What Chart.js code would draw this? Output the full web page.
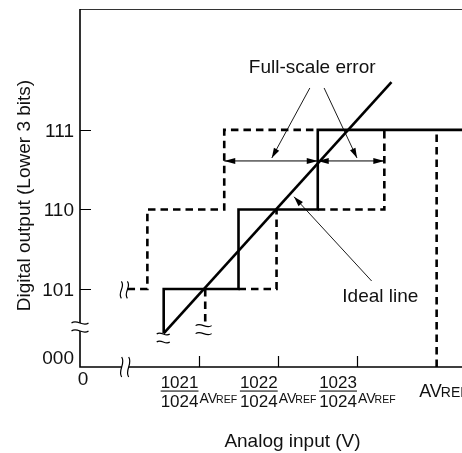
<!DOCTYPE html>
<html>
<head>
<meta charset="utf-8">
<script src="https://cdn.jsdelivr.net/npm/chart.js@4/dist/chart.umd.min.js"></script>
<style>
  html, body { margin: 0; padding: 0; background: #fff; }
  canvas { display: block; }
</style>
</head>
<body>
<canvas id="adc" width="462" height="453"></canvas>
<script>
// Output codes (lower 3 bits) on the vertical axis
const codeValues = [5, 6, 7];
const codeLabels = ['101', '110', '111'];
const originCodeLabel = '000';

// Analog input ticks, in steps of AVREF/1024
const inputTickValues = [1021, 1022, 1023];
const inputNumerators = ['1021', '1022', '1023'];
const inputDenominator = '1024';
const fullScaleValue = 1024;

// Actual conversion characteristic (solid staircase)
const actualX = [1020.556, 1020.556, 1021.5, 1021.5, 1022.5, 1022.5, 1024.5];
const actualY = [4.443, 5, 5, 6, 6, 7, 7];

// Ideal straight line
const idealX = [1020.556, 1023.43];
const idealY = [4.443, 7.60];

// Staircase reaching full scale early (dashed)
const earlyX = [1020.1, 1020.35, 1020.35, 1021.32, 1021.32, 1022.5];
const earlyY = [5, 5, 6, 6, 7, 7];

// Staircase reaching full scale late (dashed pieces)
const lateX1 = [1021.5, 1021.98, 1021.98];
const lateY1 = [5, 5, 6];
const lateX2 = [1022.5, 1023.34, 1023.34];
const lateY2 = [6, 6, 7];

// Drop line under the 101 transition and the AVREF line
const dropX = [1021.08, 1021.08];
const dropY = [5, 4.54];
const refX = [fullScaleValue, fullScaleValue];
const refY = [4.02, 7];

// Full-scale error spans (double arrows) at this code level
const errorLevel = 6.61;
const errorFrom = [1021.32, 1022.5];
const errorTo = [1022.5, 1023.34];

const toPoints = (xs, ys) => xs.map((v, i) => ({ x: v, y: ys[i] }));

const INK = '#000';
const TEXT = '#111';
const FONT = '"Liberation Sans", Arial, Helvetica, sans-serif';

function lineSet(xs, ys, dashed) {
  return {
    data: toPoints(xs, ys),
    showLine: true,
    borderColor: INK,
    borderWidth: 2.6,
    borderDash: dashed ? [7.5, 5] : [],
    borderJoinStyle: 'miter',
    pointRadius: 0,
    pointHoverRadius: 0,
    fill: false,
    tension: 0
  };
}

// Annotation geometry in data units
const notes = {
  fullScaleText: { x: 1022.43, y: 7.71, text: 'Full-scale error' },
  fullScaleLeaders: [
    { x1: 1022.40, y1: 7.527, x2: 1021.92, y2: 6.647 },
    { x1: 1022.58, y1: 7.527, x2: 1022.995, y2: 6.647 }
  ],
  idealText: { x: 1023.29, y: 4.833, text: 'Ideal line' },
  idealLeader: { x1: 1023.18, y1: 5.101, x2: 1022.20, y2: 6.16 }
};

// Break marks: position in data units, orientation
const breaks = [
  { x: 1019.5, y: 4.523, vertical: false, w: 17, a: 2.2, gap: 8, erase: true },
  { x: 1020.07, y: 4.02, vertical: true, w: 20, a: 2.2, gap: 7, erase: true },
  { x: 1020.06, y: 4.99, vertical: true, w: 17, a: 2.2, gap: 6, erase: false },
  { x: 1020.55, y: 4.384, vertical: false, w: 13, a: 1.8, gap: 8, erase: false },
  { x: 1021.06, y: 4.49, vertical: false, w: 16, a: 2.0, gap: 8, erase: false }
];

function curve(ctx, w, a, off) {
  ctx.moveTo(-w / 2, off);
  ctx.bezierCurveTo(-w / 6, off - 2 * a, w / 6, off + 2 * a, w / 2, off);
}

function drawBreak(ctx, cx, cy, b) {
  ctx.save();
  ctx.translate(cx, cy);
  if (b.vertical) ctx.rotate(Math.PI / 2);
  const g = b.gap / 2;
  if (b.erase) {
    ctx.beginPath();
    ctx.moveTo(-b.w / 2, -g);
    ctx.bezierCurveTo(-b.w / 6, -g - 2 * b.a, b.w / 6, -g + 2 * b.a, b.w / 2, -g);
    ctx.lineTo(b.w / 2, g);
    ctx.bezierCurveTo(b.w / 6, g + 2 * b.a, -b.w / 6, g - 2 * b.a, -b.w / 2, g);
    ctx.closePath();
    ctx.fillStyle = '#fff';
    ctx.fill();
  }
  ctx.beginPath();
  curve(ctx, b.w, b.a, -g);
  curve(ctx, b.w, b.a, g);
  ctx.strokeStyle = INK;
  ctx.lineWidth = 1.2;
  ctx.stroke();
  ctx.restore();
}

function arrowHead(ctx, tx, ty, fx, fy, len, half) {
  const ang = Math.atan2(ty - fy, tx - fx);
  ctx.save();
  ctx.translate(tx, ty);
  ctx.rotate(ang);
  ctx.beginPath();
  ctx.moveTo(0, 0);
  ctx.lineTo(-len, -half);
  ctx.lineTo(-len, half);
  ctx.closePath();
  ctx.fillStyle = INK;
  ctx.fill();
  ctx.restore();
}

const diagram = {
  id: 'adcDiagram',
  beforeDatasetsDraw(chart) {
    const { ctx, chartArea: a, scales: { x, y } } = chart;
    ctx.save();
    // top border
    ctx.strokeStyle = '#333';
    ctx.lineWidth = 1;
    ctx.beginPath();
    ctx.moveTo(a.left, a.top + 0.5);
    ctx.lineTo(a.right, a.top + 0.5);
    ctx.stroke();
    // axes
    ctx.strokeStyle = INK;
    ctx.lineWidth = 1.6;
    ctx.beginPath();
    ctx.moveTo(a.left, a.top);
    ctx.lineTo(a.left, a.bottom);
    ctx.lineTo(a.right, a.bottom);
    ctx.stroke();
    // inward tick marks
    ctx.lineWidth = 1.2;
    ctx.beginPath();
    codeValues.forEach(v => {
      const p = Math.round(y.getPixelForValue(v)) + 0.5;
      ctx.moveTo(a.left, p);
      ctx.lineTo(a.left + 11, p);
    });
    inputTickValues.forEach(v => {
      const p = Math.round(x.getPixelForValue(v)) + 0.5;
      ctx.moveTo(p, a.bottom);
      ctx.lineTo(p, a.bottom - 11);
    });
    ctx.stroke();
    ctx.restore();
  },
  afterDatasetsDraw(chart) {
    const { ctx, scales: { x, y } } = chart;
    ctx.save();
    // break marks
    breaks.forEach(b => drawBreak(ctx, x.getPixelForValue(b.x), y.getPixelForValue(b.y), b));

    // full-scale error double arrows
    ctx.strokeStyle = INK;
    ctx.lineWidth = 1;
    const ay = y.getPixelForValue(errorLevel);
    errorFrom.forEach((v, i) => {
      const x1 = x.getPixelForValue(v);
      const x2 = x.getPixelForValue(errorTo[i]);
      ctx.beginPath();
      ctx.moveTo(x1, ay);
      ctx.lineTo(x2, ay);
      ctx.stroke();
      arrowHead(ctx, x1, ay, x2, ay, 11, 3);
      arrowHead(ctx, x2, ay, x1, ay, 11, 3);
    });

    // leader lines
    const leaders = notes.fullScaleLeaders.concat([notes.idealLeader]);
    leaders.forEach(l => {
      const x1 = x.getPixelForValue(l.x1), y1 = y.getPixelForValue(l.y1);
      const x2 = x.getPixelForValue(l.x2), y2 = y.getPixelForValue(l.y2);
      ctx.beginPath();
      ctx.moveTo(x1, y1);
      ctx.lineTo(x2, y2);
      ctx.lineWidth = 0.9;
      ctx.stroke();
      arrowHead(ctx, x2, y2, x1, y1, 10, 3);
    });

    // annotation texts
    ctx.fillStyle = TEXT;
    ctx.font = '19px ' + FONT;
    ctx.textAlign = 'center';
    ctx.textBaseline = 'alphabetic';
    [notes.fullScaleText, notes.idealText].forEach(t => {
      ctx.fillText(t.text, x.getPixelForValue(t.x), y.getPixelForValue(t.y));
    });
    ctx.restore();
  },
  afterDraw(chart) {
    const { ctx, chartArea: a, scales: { x, y } } = chart;
    ctx.save();
    ctx.fillStyle = TEXT;
    ctx.textBaseline = 'alphabetic';

    // vertical axis labels
    ctx.font = '19px ' + FONT;
    ctx.textAlign = 'right';
    codeValues.forEach((v, i) => {
      ctx.fillText(codeLabels[i], a.left - 6, y.getPixelForValue(v) + 7);
    });
    ctx.fillText(originCodeLabel, a.left - 6, a.bottom - 3.5);

    // origin
    ctx.textAlign = 'center';
    ctx.font = '19px ' + FONT;
    ctx.fillText('0', a.left + 3, a.bottom + 18);

    // fractional input labels
    ctx.textAlign = 'left';
    const gap = 1;
    inputTickValues.forEach((v, i) => {
      const p = x.getPixelForValue(v);
      ctx.font = '17px ' + FONT;
      const wN = Math.max(ctx.measureText(inputNumerators[i]).width, ctx.measureText(inputDenominator).width);
      ctx.font = '14px ' + FONT;
      const wA = ctx.measureText('AV').width - 1;
      ctx.font = '10.5px ' + FONT;
      const wR = ctx.measureText('REF').width;
      const total = wN + gap + wA + wR;
      const left = p - total / 2;
      ctx.font = '17px ' + FONT;
      ctx.fillText(inputNumerators[i], left, a.bottom + 20.5);
      ctx.fillText(inputDenominator, left, a.bottom + 40);
      ctx.fillRect(left, a.bottom + 23.5, wN, 1.1);
      ctx.font = '14px ' + FONT;
      ctx.fillText('AV', left + wN + gap, a.bottom + 36);
      ctx.font = '10.5px ' + FONT;
      ctx.fillText('REF', left + wN + gap + wA, a.bottom + 36);
    });

    // full-scale input label
    const pr = x.getPixelForValue(fullScaleValue);
    ctx.font = '18px ' + FONT;
    const wAV = ctx.measureText('AV').width - 1;
    ctx.fillText('AV', pr - 17.5, a.bottom + 30);
    ctx.font = '14px ' + FONT;
    ctx.fillText('REF', pr - 17.5 + wAV, a.bottom + 30);

    // axis titles
    ctx.font = '19px ' + FONT;
    ctx.textAlign = 'center';
    ctx.fillText('Analog input (V)', a.left + 212.5, a.bottom + 80);
    ctx.save();
    ctx.translate(30, 195.5);
    ctx.rotate(-Math.PI / 2);
    ctx.fillText('Digital output (Lower 3 bits)', 0, 0);
    ctx.restore();

    ctx.restore();
  }
};

new Chart(document.getElementById('adc'), {
  type: 'scatter',
  data: {
    datasets: [
      lineSet(earlyX, earlyY, true),
      lineSet(lateX1, lateY1, true),
      lineSet(lateX2, lateY2, true),
      lineSet(dropX, dropY, true),
      lineSet(refX, refY, true),
      lineSet(actualX, actualY, false),
      lineSet(idealX, idealY, false)
    ]
  },
  options: {
    responsive: false,
    animation: false,
    devicePixelRatio: 1,
    layout: { padding: { left: 80, top: 9, right: 0, bottom: 86 } },
    plugins: { legend: { display: false }, tooltip: { enabled: false } },
    events: [],
    scales: {
      x: { type: 'linear', min: 1019.5, max: 1024.32, display: false },
      y: { type: 'linear', min: 4.02, max: 8.52, display: false }
    }
  },
  plugins: [diagram]
});
</script>
</body>
</html>
